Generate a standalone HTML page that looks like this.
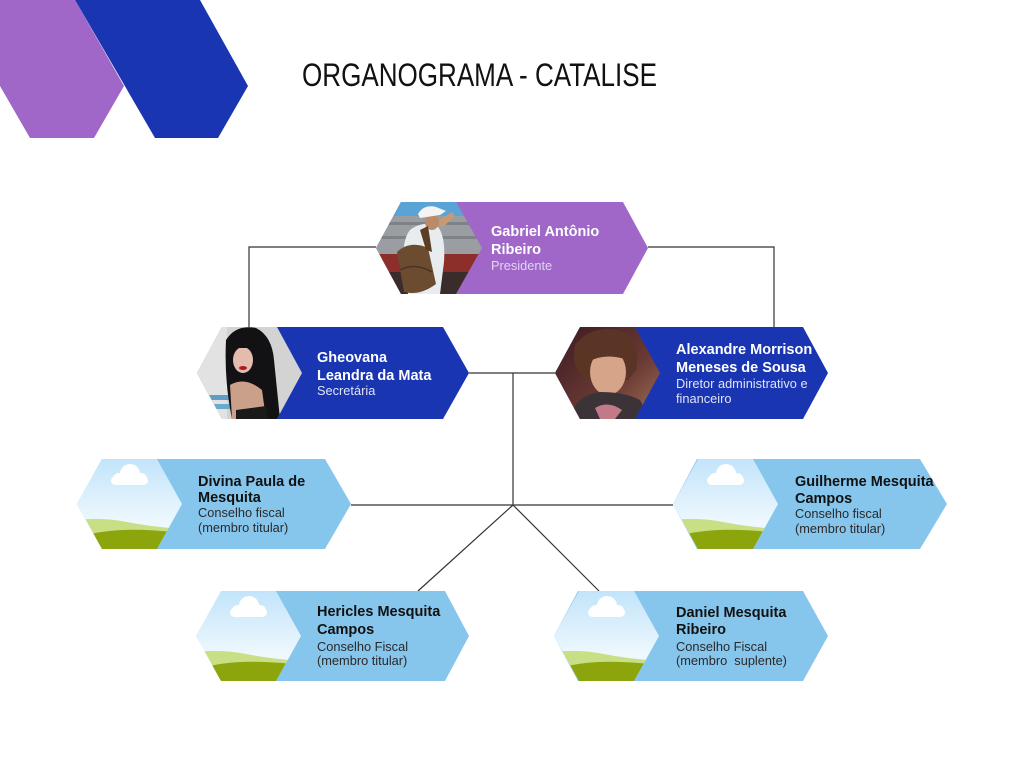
<!DOCTYPE html>
<html><head><meta charset="utf-8"><style>
html,body{margin:0;padding:0;background:#fff;}
svg{display:block;}
text{font-family:"Liberation Sans",Arial,sans-serif;}
</style></head><body>
<svg width="1024" height="768" viewBox="0 0 1024 768" xmlns="http://www.w3.org/2000/svg">
<defs>
  <linearGradient id="sky" x1="0" y1="0" x2="0" y2="1">
    <stop offset="0" stop-color="#c2e4fa"/>
    <stop offset="0.7" stop-color="#eef8fe"/>
    <stop offset="1" stop-color="#f4fbff"/>
  </linearGradient>
  <linearGradient id="alexbg" x1="0" y1="0" x2="1" y2="1">
    <stop offset="0" stop-color="#3c1a22"/>
    <stop offset="0.6" stop-color="#6a3a34"/>
    <stop offset="1" stop-color="#a0705a"/>
  </linearGradient>
  <clipPath id="hexP"><polygon points="376,248 401,202 456,202 482,248 456,294 401,294"/></clipPath>
  <clipPath id="hexG"><polygon points="197,373 222,327 277,327 302,373 277,419 222,419"/></clipPath>
  <clipPath id="hexA"><polygon points="555,373 580,327 635,327 660,373 635,419 580,419"/></clipPath>
  <clipPath id="hexL"><polygon points="0,45 25,0 80,0 105,45 80,90 25,90"/></clipPath>
  <g id="ph">
    <g clip-path="url(#hexL)">
      <rect x="0" y="0" width="106" height="91" fill="url(#sky)"/>
      <g fill="#ffffff">
        <circle cx="53" cy="15" r="10"/>
        <circle cx="42" cy="20" r="6"/>
        <circle cx="64" cy="20" r="6"/>
        <rect x="34" y="17" width="37" height="9" rx="4.5"/>
      </g>
      <path d="M0,61 Q25,58 50,63 T106,70 L106,91 L0,91 Z" fill="#c8df86"/>
      <path d="M0,79 Q20,72 45,71 T106,74 L106,91 L0,91 Z" fill="#8ca50c"/>
    </g>
  </g>
</defs>

<!-- top-left decoration -->
<polygon points="0,0 75,0 124,86 94,138 30,138 0,86" fill="#a066c8"/>
<polygon points="75,0 200,0 248,86 218,138 155,138" fill="#1935b2"/>

<!-- title -->
<text x="302" y="86" font-size="32" fill="#111" textLength="355" lengthAdjust="spacingAndGlyphs">ORGANOGRAMA - CATALISE</text>

<!-- connectors -->
<g stroke="#333" stroke-width="1.2" fill="none">
  <polyline points="376,247 249,247 249,327"/>
  <polyline points="648,247 774,247 774,327"/>
  <line x1="469" y1="373" x2="555" y2="373"/>
  <line x1="513" y1="373" x2="513" y2="505"/>
  <line x1="351" y1="505" x2="673" y2="505" stroke="#555" stroke-width="1.4"/>
  <line x1="513" y1="505" x2="418" y2="591"/>
  <line x1="513" y1="505" x2="599" y2="591"/>
</g>

<!-- President -->
<polygon points="401,202 623,202 648,248 623,294 401,294 376,248" fill="#a066c8"/>
<g clip-path="url(#hexP)">
  <rect x="376" y="202" width="106" height="92" fill="#9a9ea2"/>
  <rect x="376" y="202" width="106" height="14" fill="#5aa3d6"/>
  <rect x="376" y="222" width="106" height="3" fill="#7d8287"/>
  <rect x="376" y="236" width="106" height="3" fill="#7d8287"/>
  <rect x="376" y="254" width="106" height="18" fill="#8c2f2b"/>
  <rect x="376" y="272" width="106" height="22" fill="#3a2c2a"/>
  <!-- person -->
  <path d="M410,230 Q420,222 435,224 Q446,232 444,262 L440,294 L408,294 L404,262 Q402,240 410,230 Z" fill="#e9ecef"/>
  <path d="M436,222 L452,212 L455,216 L442,228 Z" fill="#c79a76"/>
  <ellipse cx="432" cy="222" rx="7" ry="8" fill="#b98b68"/>
  <path d="M418,214 Q424,204 436,207 L446,211 L440,215 L420,218 Z" fill="#f4f4f4"/>
  <path d="M397,252 Q410,240 428,248 L436,284 Q420,296 404,292 Z" fill="#6b4c30"/>
  <path d="M420,230 L428,226 L432,252 L426,250 Z" fill="#5a3e26"/>
  <path d="M400,270 Q415,262 432,272" stroke="#4a3320" stroke-width="1.5" fill="none"/>
</g>
<text x="491" y="236" font-size="14.5" font-weight="bold" fill="#fff">Gabriel Antônio</text>
<text x="491" y="254" font-size="14.5" font-weight="bold" fill="#fff">Ribeiro</text>
<text x="491" y="270" font-size="12.8" fill="#e4d4f2">Presidente</text>

<!-- Gheovana -->
<polygon points="222,327 443,327 469,373 443,419 222,419 197,373" fill="#1935b2"/>
<g clip-path="url(#hexG)">
  <rect x="197" y="327" width="106" height="92" fill="#d3d3d4"/>
  <rect x="197" y="327" width="30" height="92" fill="#e2e2e2"/>
  <rect x="197" y="395" width="40" height="5" fill="#5d9ec6"/>
  <rect x="197" y="404" width="40" height="5" fill="#6aaacc"/>
  <path d="M226,340 Q236,324 256,328 Q272,336 274,360 L280,419 L232,419 Q224,380 226,340 Z" fill="#121214"/>
  <ellipse cx="243" cy="360" rx="10" ry="13" fill="#e3bcae"/>
  <rect x="232" y="340" width="24" height="8" fill="#121214"/>
  <ellipse cx="243" cy="368" rx="4" ry="2" fill="#b2182a"/>
  <path d="M230,385 Q245,376 262,390 L266,419 L232,419 Z" fill="#caa08a"/>
  <path d="M236,410 L266,406 L268,419 L236,419 Z" fill="#1a1a1a"/>
</g>
<text x="317" y="362" font-size="14.5" font-weight="bold" fill="#fff">Gheovana</text>
<text x="317" y="380" font-size="14.5" font-weight="bold" fill="#fff">Leandra da Mata</text>
<text x="317" y="395" font-size="12.8" fill="#dfe3f7">Secretária</text>

<!-- Alexandre -->
<polygon points="580,327 803,327 828,373 803,419 580,419 555,373" fill="#1935b2"/>
<g clip-path="url(#hexA)">
  <rect x="555" y="327" width="106" height="92" fill="url(#alexbg)"/>
  <path d="M575,345 Q590,325 620,330 Q642,340 636,370 L628,380 L585,380 Q570,365 575,345 Z" fill="#5a3424"/>
  <ellipse cx="608" cy="372" rx="18" ry="23" fill="#d6a488"/>
  <path d="M585,350 Q600,338 625,348 L628,360 Q605,352 588,362 Z" fill="#5a3424"/>
  <path d="M570,419 Q575,395 600,392 Q625,392 640,400 L650,419 Z" fill="#3b3338"/>
  <path d="M595,408 Q608,400 622,410 L615,419 L600,419 Z" fill="#c27a88"/>
</g>
<text x="676" y="354" font-size="14.5" font-weight="bold" fill="#fff">Alexandre Morrison</text>
<text x="676" y="372" font-size="14.5" font-weight="bold" fill="#fff">Meneses de Sousa</text>
<text x="676" y="388" font-size="12.8" fill="#dfe3f7">Diretor administrativo e</text>
<text x="676" y="403" font-size="12.8" fill="#dfe3f7">financeiro</text>

<!-- Divina -->
<polygon points="102,459 325,459 351,504 325,549 102,549 77,504" fill="#86c5ec"/>
<use href="#ph" transform="translate(77,459)"/>
<text x="198" y="486" font-size="14.5" font-weight="bold" fill="#111">Divina Paula de</text>
<text x="198" y="502" font-size="14.5" font-weight="bold" fill="#111">Mesquita</text>
<text x="198" y="517" font-size="12.8" fill="#2a2a2a">Conselho fiscal</text>
<text x="198" y="532" font-size="12.8" fill="#2a2a2a">(membro titular)</text>

<!-- Guilherme -->
<polygon points="697,459 920,459 947,504 920,549 697,549 673,504" fill="#86c5ec"/>
<use href="#ph" transform="translate(673,459)"/>
<text x="795" y="486" font-size="14.5" font-weight="bold" fill="#111">Guilherme Mesquita</text>
<text x="795" y="503" font-size="14.5" font-weight="bold" fill="#111">Campos</text>
<text x="795" y="518" font-size="12.8" fill="#2a2a2a">Conselho fiscal</text>
<text x="795" y="533" font-size="12.8" fill="#2a2a2a">(membro titular)</text>

<!-- Hericles -->
<polygon points="222,591 445,591 469,636 445,681 222,681 196,636" fill="#86c5ec"/>
<use href="#ph" transform="translate(196,591)"/>
<text x="317" y="616" font-size="14.5" font-weight="bold" fill="#111">Hericles Mesquita</text>
<text x="317" y="634" font-size="14.5" font-weight="bold" fill="#111">Campos</text>
<text x="317" y="651" font-size="12.8" fill="#2a2a2a">Conselho Fiscal</text>
<text x="317" y="665" font-size="12.8" fill="#2a2a2a">(membro titular)</text>

<!-- Daniel -->
<polygon points="578,591 803,591 828,636 803,681 578,681 554,636" fill="#86c5ec"/>
<use href="#ph" transform="translate(554,591)"/>
<text x="676" y="617" font-size="14.5" font-weight="bold" fill="#111">Daniel Mesquita</text>
<text x="676" y="634" font-size="14.5" font-weight="bold" fill="#111">Ribeiro</text>
<text x="676" y="651" font-size="12.8" fill="#2a2a2a">Conselho Fiscal</text>
<text x="676" y="665" font-size="12.8" fill="#2a2a2a" xml:space="preserve">(membro  suplente)</text>
</svg>
</body></html>
